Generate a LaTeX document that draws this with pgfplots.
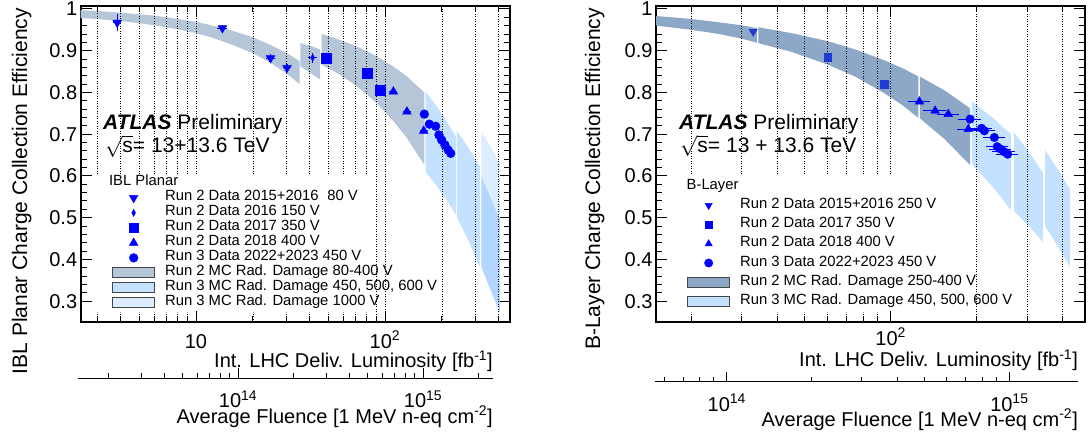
\documentclass[border=0pt]{standalone}
\usepackage{pgfplots}
\pgfplotsset{compat=1.18}
\usepackage{fontspec}
\setmainfont{Liberation Sans}
\definecolor{bandA}{RGB}{181,198,216}
\definecolor{bandB}{RGB}{141,168,198}
\definecolor{runthree}{RGB}{196,226,255}
\definecolor{kilo}{RGB}{220,237,255}
\definecolor{overlap}{RGB}{178,214,255}
\definecolor{dblue}{RGB}{30,60,210}
\definecolor{legedge}{RGB}{70,70,70}
\newcommand{\fs}[1]{\fontsize{#1}{#1}\selectfont}
\pgfplotsset{
  mklegend/.style={legend image code/.code={\draw[##1] plot coordinates {(21pt,0pt)};}},
  bxlegend/.style={legend image code/.code={\draw[##1] (0pt,-5pt) rectangle (42pt,5pt);}},
}
\begin{document}
\begin{tikzpicture}
\useasboundingbox (0pt,0pt) rectangle (1089pt,434pt);
%================ LEFT: IBL Planar =================
\begin{axis}[at={(80.7pt,112pt)}, anchor=south west, scale only axis, width=429.3pt, height=316pt,
  xmode=log, xmin=2.4546, xmax=458.6, ymin=0.25, ymax=1.007,
  ytick={0.3,0.4,0.5,0.6,0.7,0.8,0.9,1},
  yticklabels={0.3,0.4,0.5,0.6,0.7,0.8,0.9,1},
  minor y tick num=4,
  xtick={10,100}, xticklabels={10,10\textsuperscript{2}},
  minor xtick={3,4,5,6,7,8,9,20,30,40,50,60,70,80,90,200,300,400},
  tick align=inside, xtick pos=both, ytick pos=both,
  major tick length=11pt, minor tick length=6pt,
  axis line style={line width=1.6pt},
  tick style={line width=0.9pt, black},
  ticklabel style={font=\fs{20}},
  xticklabel style={anchor=base, yshift=-26pt},
  legend cell align=left,
  legend style={draw=none, fill=none, inner sep=0pt, font=\fs{14.8},
      nodes={inner sep=0pt, text height=10.5pt, text depth=4.5pt}, column sep=10pt,
      at={(0.0729,0.4646)}, anchor=north west}]
% MC bands
\addplot[forget plot, draw=none, fill=bandA] coordinates {(2.4546,0.997)(3,0.995)(4,0.991)(5,0.987)(6,0.984)(8,0.976)(10,0.969)(12,0.961)(15,0.950)(20,0.932)(25,0.913)(30,0.895)(35.3,0.875)
 (35.3,0.820)(30,0.846)(25,0.870)(20,0.894)(15,0.917)(12,0.932)(10,0.942)(8,0.951)(6,0.961)(5,0.966)(4,0.971)(3,0.976)(2.4546,0.978)};
\addplot[forget plot, draw=none, fill=bandA] coordinates {(35.7,0.918)(40,0.912)(45.3,0.903)(45.3,0.831)(40,0.848)(35.7,0.862)};
\addplot[forget plot, draw=none, fill=bandA] coordinates {(46.2,0.940)(55,0.929)(65,0.917)(75,0.905)(90,0.887)(110,0.863)(130,0.839)(161.5,0.800)
 (161.5,0.626)(130,0.692)(110,0.733)(90,0.775)(75,0.806)(65,0.827)(55,0.848)(46.2,0.866)};
\addplot[forget plot, draw=none, fill=runthree] coordinates {(163.9,0.802)(185,0.771)(210,0.734)(237.6,0.694)(237.6,0.506)(210,0.545)(185,0.580)(163.9,0.610)};
\addplot[forget plot, draw=none, fill=runthree] coordinates {(239.7,0.708)(275,0.669)(317.4,0.622)(317.4,0.382)(275,0.447)(239.7,0.502)};
\addplot[forget plot, draw=none, fill=kilo] coordinates {(323.6,0.706)(360,0.672)(405.3,0.630)(405.3,0.271)(360,0.330)(323.6,0.382)};
\addplot[forget plot, draw=none, fill=overlap] coordinates {(323.6,0.598)(360,0.550)(405.3,0.494)(405.3,0.271)(360,0.330)(323.6,0.382)};
% grid lines (hidden behind the legend box)
\addplot[forget plot, black, line width=0.7pt, dash pattern=on 0.8pt off 1.7pt, unbounded coords=jump] coordinates {
 (3,0.25)(3,0.274)(3,nan)(3,0.605)(3,1.007)(3,nan)
 (4,0.25)(4,0.274)(4,nan)(4,0.605)(4,1.007)(4,nan)
 (5,0.25)(5,0.274)(5,nan)(5,0.605)(5,1.007)(5,nan)
 (6,0.25)(6,0.274)(6,nan)(6,0.605)(6,1.007)(6,nan)
 (7,0.25)(7,0.274)(7,nan)(7,0.605)(7,1.007)(7,nan)
 (8,0.25)(8,0.274)(8,nan)(8,0.605)(8,1.007)(8,nan)
 (9,0.25)(9,0.274)(9,nan)(9,0.605)(9,1.007)(9,nan)
 (10,0.25)(10,0.274)(10,nan)(10,0.605)(10,1.007)(10,nan)
 (20,0.25)(20,0.274)(20,nan)(20,0.605)(20,1.007)(20,nan)
 (30,0.25)(30,0.274)(30,nan)(30,0.605)(30,1.007)(30,nan)
 (40,0.25)(40,0.274)(40,nan)(40,0.605)(40,1.007)(40,nan)
 (50,0.25)(50,0.274)(50,nan)(50,0.605)(50,1.007)(50,nan)
 (60,0.25)(60,0.274)(60,nan)(60,0.605)(60,1.007)(60,nan)
 (70,0.25)(70,0.274)(70,nan)(70,0.605)(70,1.007)(70,nan)
 (80,0.25)(80,0.274)(80,nan)(80,0.605)(80,1.007)(80,nan)
 (90,0.25)(90,1.007)(90,nan)
 (100,0.25)(100,1.007)(100,nan)
 (200,0.25)(200,1.007)(200,nan)
 (300,0.25)(300,1.007)(300,nan)
 (400,0.25)(400,1.007)};
% data
\addplot[forget plot, only marks, blue, mark=triangle*, mark size=5pt, mark options={rotate=180},
  error bars/.cd, x dir=both, x explicit relative, y dir=both, y explicit, error mark=none, error bar style={line width=1.2pt, blue}]
 coordinates {(3.83,0.967) +- (0.05,0.02) (13.8,0.954) +- (0.06,0.008) (24.8,0.882) +- (0.05,0.01) (30.3,0.859) +- (0.05,0.01)};
\addplot[forget plot, only marks, blue, mark=diamond*, mark size=3.6pt, mark options={xscale=0.7},
  error bars/.cd, x dir=both, x explicit relative, y dir=both, y explicit, error mark=none, error bar style={line width=1.2pt, blue}]
 coordinates {(41.4,0.883) +- (0.05,0.012)};
\addplot[forget plot, only marks, blue, mark=square*, mark size=5pt,
  error bars/.cd, x dir=both, x explicit relative, y dir=both, y explicit, error mark=none, error bar style={line width=1.2pt, blue}]
 coordinates {(48.7,0.882) +- (0.05,0.005) (80.3,0.847) +- (0.04,0.005) (94.8,0.806) +- (0.04,0.005)};
\addplot[forget plot, only marks, blue, mark=triangle*, mark size=5pt,
  error bars/.cd, x dir=both, x explicit relative, y dir=both, y explicit, error mark=none, error bar style={line width=1.2pt, blue}]
 coordinates {(110.7,0.802) +- (0.05,0.005) (130.6,0.754) +- (0.05,0.005) (160.3,0.708) +- (0.05,0.005)};
\addplot[forget plot, only marks, blue, mark=*, mark size=4.4pt,
  error bars/.cd, x dir=both, x explicit relative, y dir=both, y explicit, error mark=none, error bar style={line width=1.2pt, blue}]
 coordinates {(161.5,0.748) +- (0.04,0.004) (171.6,0.724) +- (0.04,0.004) (185.3,0.719) +- (0.04,0.004) (193,0.698) +- (0.04,0.004)
  (199.5,0.686) +- (0.04,0.004) (207.6,0.674) +- (0.04,0.004) (216,0.662) +- (0.05,0.004) (222.6,0.654) +- (0.05,0.004)};
% legend
\addlegendimage{empty legend}\addlegendentry{\hspace*{-56pt}IBL Planar}
\addlegendimage{mklegend, only marks, blue, mark=triangle*, mark size=5pt, mark options={rotate=180}}
\addlegendentry{Run 2 Data 2015+2016\hspace{0.6em}80 V}
\addlegendimage{mklegend, only marks, blue, mark=diamond*, mark size=3.6pt, mark options={xscale=0.7}}
\addlegendentry{Run 2 Data 2016 150 V}
\addlegendimage{mklegend, only marks, blue, mark=square*, mark size=4.5pt}
\addlegendentry{Run 2 Data 2017 350 V}
\addlegendimage{mklegend, only marks, blue, mark=triangle*, mark size=5pt}
\addlegendentry{Run 2 Data 2018 400 V}
\addlegendimage{mklegend, only marks, blue, mark=*, mark size=4.4pt}
\addlegendentry{Run 3 Data 2022+2023 450 V}
\addlegendimage{bxlegend, fill=bandA, draw=legedge, line width=0.9pt}
\addlegendentry{Run 2 MC Rad. Damage 80-400 V}
\addlegendimage{bxlegend, fill=runthree, draw=legedge, line width=0.9pt}
\addlegendentry{Run 3 MC Rad. Damage 450, 500, 600 V}
\addlegendimage{bxlegend, fill=kilo, draw=legedge, line width=0.9pt}
\addlegendentry{Run 3 MC Rad. Damage 1000 V}
\end{axis}
\begin{axis}[at={(78pt,55.7pt)}, anchor=south west, scale only axis, width=415pt, height=20pt,
  xmode=log, xmin=1.3646e13, xmax=2.388e15, ymin=0, ymax=1,
  axis x line=bottom, axis y line=none, x axis line style={-, line width=1pt},
  tick align=inside, major tick length=10pt, minor tick length=5pt,
  xtick={1e14,1e15}, xticklabels={10\textsuperscript{14},10\textsuperscript{15}},
  minor xtick={2e13,3e13,4e13,5e13,6e13,7e13,8e13,9e13,2e14,3e14,4e14,5e14,6e14,7e14,8e14,9e14,2e15},
  xticklabel style={font=\fs{20}, anchor=base, yshift=-29.3pt},
  tick style={line width=0.9pt, black}]
\addplot[draw=none, forget plot] coordinates {(1e14,0.5)(1e15,0.5)};
\end{axis}
%================ RIGHT: B-Layer =================
\begin{axis}[at={(656pt,112pt)}, anchor=south west, scale only axis, width=429pt, height=316pt,
  xmode=log, xmin=15.08, xmax=478.7, ymin=0.25, ymax=1.007,
  ytick={0.3,0.4,0.5,0.6,0.7,0.8,0.9,1},
  yticklabels={0.3,0.4,0.5,0.6,0.7,0.8,0.9,1},
  minor y tick num=4,
  xtick={100}, xticklabels={10\textsuperscript{2}},
  minor xtick={20,30,40,50,60,70,80,90,200,300,400},
  tick align=inside, xtick pos=both, ytick pos=both,
  major tick length=11pt, minor tick length=6pt,
  axis line style={line width=1.6pt},
  tick style={line width=0.9pt, black},
  ticklabel style={font=\fs{20}},
  xticklabel style={anchor=base, yshift=-23pt},
  legend cell align=left,
  legend style={draw=none, fill=none, inner sep=0pt, font=\fs{14.8},
      nodes={inner sep=0pt, text height=10.5pt, text depth=4.5pt}, column sep=10pt, row sep=4.2pt,
      at={(0.0723,0.4541)}, anchor=north west}]
\addplot[forget plot, draw=none, fill=bandB] coordinates {(15.08,0.983)(20,0.976)(25,0.968)(30,0.961)(34,0.954)(34,0.919)(30,0.929)(25,0.940)(20,0.950)(15.08,0.960)};
\addplot[forget plot, draw=none, fill=bandB] coordinates {(34.4,0.956)(45,0.942)(60,0.923)(75,0.903)(95,0.877)(110,0.858)(125,0.838)(125,0.739)(110,0.769)(95,0.798)(75,0.838)(60,0.867)(45,0.897)(34.4,0.918)};
\addplot[forget plot, draw=none, fill=bandB] coordinates {(126.5,0.838)(155,0.804)(189.6,0.762)(189.6,0.626)(155,0.687)(126.5,0.738)};
\addplot[forget plot, draw=none, fill=runthree] coordinates {(192.5,0.778)(228,0.739)(263.6,0.700)(263.6,0.518)(228,0.573)(192.5,0.628)};
\addplot[forget plot, draw=none, fill=runthree] coordinates {(269.6,0.705)(305,0.657)(341,0.608)(341,0.442)(305,0.479)(269.6,0.516)};
\addplot[forget plot, draw=none, fill=runthree] coordinates {(347,0.662)(385,0.615)(424,0.568)(424,0.382)(385,0.431)(347,0.480)};
\addplot[forget plot, black, line width=0.7pt, dash pattern=on 0.8pt off 1.7pt, unbounded coords=jump] coordinates {
 (20,0.25)(20,0.274)(20,nan)(20,0.605)(20,1.007)(20,nan)
 (30,0.25)(30,0.274)(30,nan)(30,0.605)(30,1.007)(30,nan)
 (40,0.25)(40,0.274)(40,nan)(40,0.605)(40,1.007)(40,nan)
 (50,0.25)(50,0.274)(50,nan)(50,0.605)(50,1.007)(50,nan)
 (60,0.25)(60,0.274)(60,nan)(60,0.605)(60,1.007)(60,nan)
 (70,0.25)(70,0.274)(70,nan)(70,0.605)(70,1.007)(70,nan)
 (80,0.25)(80,0.274)(80,nan)(80,0.605)(80,1.007)(80,nan)
 (90,0.25)(90,0.274)(90,nan)(90,0.605)(90,1.007)(90,nan)
 (100,0.25)(100,0.274)(100,nan)(100,0.605)(100,1.007)(100,nan)
 (200,0.25)(200,1.007)(200,nan)
 (300,0.25)(300,1.007)(300,nan)
 (400,0.25)(400,1.007)};
\addplot[forget plot, only marks, dblue, mark=triangle*, mark size=4.8pt, mark options={rotate=180}]
 coordinates {(33.0,0.9456)};
\addplot[forget plot, only marks, dblue, mark=square*, mark size=3.7pt]
 coordinates {(60.3,0.884)(94.8,0.820)};
\addplot[forget plot, only marks, blue, mark=triangle*, mark size=5pt,
  error bars/.cd, x dir=both, x explicit relative, error mark=none, error bar style={line width=1.2pt, blue}]
 coordinates {(126,0.778) +- (0.09,0) (143,0.756) +- (0.09,0) (159,0.748) +- (0.09,0) (187,0.712) +- (0.09,0)};
\addplot[forget plot, only marks, blue, mark=*, mark size=4.3pt,
  error bars/.cd, x dir=both, x explicit relative, error mark=none, error bar style={line width=1.2pt, blue}]
 coordinates {(189.6,0.736) +- (0.09,0) (208,0.714) +- (0.09,0) (212.7,0.708) +- (0.09,0) (230.5,0.692) +- (0.09,0)
  (236,0.670) +- (0.09,0) (242.7,0.664) +- (0.09,0) (249.3,0.658) +- (0.09,0) (256.8,0.652) +- (0.09,0)};
\addlegendimage{empty legend}\addlegendentry{\hspace*{-56pt}B-Layer}
\addlegendimage{mklegend, only marks, blue, mark=triangle*, mark size=4.2pt, mark options={rotate=180}}
\addlegendentry{Run 2 Data 2015+2016 250 V}
\addlegendimage{mklegend, only marks, blue, mark=square*, mark size=3.2pt}
\addlegendentry{Run 2 Data 2017 350 V}
\addlegendimage{mklegend, only marks, blue, mark=triangle*, mark size=4.2pt}
\addlegendentry{Run 2 Data 2018 400 V}
\addlegendimage{mklegend, only marks, blue, mark=*, mark size=4.2pt}
\addlegendentry{Run 3 Data 2022+2023 450 V}
\addlegendimage{bxlegend, fill=bandB, draw=legedge, line width=0.9pt}
\addlegendentry{Run 2 MC Rad. Damage 250-400 V}
\addlegendimage{bxlegend, fill=runthree, draw=legedge, line width=0.9pt}
\addlegendentry{Run 3 MC Rad. Damage 450, 500, 600 V}
\end{axis}
\begin{axis}[at={(655pt,52.3pt)}, anchor=south west, scale only axis, width=423pt, height=20pt,
  xmode=log, xmin=5.57e13, xmax=1.75e15, ymin=0, ymax=1,
  axis x line=bottom, axis y line=none, x axis line style={-, line width=1pt},
  tick align=inside, major tick length=10pt, minor tick length=5pt,
  xtick={1e14,1e15}, xticklabels={10\textsuperscript{14},10\textsuperscript{15}},
  minor xtick={6e13,7e13,8e13,9e13,2e14,3e14,4e14,5e14,6e14,7e14,8e14,9e14},
  xticklabel style={font=\fs{20}, anchor=base, yshift=-29.8pt},
  tick style={line width=0.9pt, black}]
\addplot[draw=none, forget plot] coordinates {(1e14,0.5)(1e15,0.5)};
\end{axis}
%================ texts =================
\node[rotate=90, anchor=base east, inner sep=0pt, font=\fs{21}] at (27pt,426pt) {IBL Planar Charge Collection Efficiency};
\node[rotate=90, anchor=base east, inner sep=0pt, font=\fs{21}] at (600pt,426pt) {B-Layer Charge Collection Efficiency};
\node[anchor=base west, inner sep=0pt, font=\fs{21}] at (103pt,304pt) {\textbf{\textit{ATLAS}} Preliminary};
\node[anchor=base west, inner sep=0pt, font=\fs{21}] at (105pt,281pt) {$\sqrt{\mbox{s}}$= 13+13.6 TeV};
\node[anchor=base west, inner sep=0pt, font=\fs{21}] at (679pt,304pt) {\textbf{\textit{ATLAS}} Preliminary};
\node[anchor=base west, inner sep=0pt, font=\fs{21}] at (680pt,281.3pt) {$\sqrt{\mbox{s}}$= 13 + 13.6 TeV};
\node[anchor=base east, inner sep=0pt, font=\fs{20}] at (493pt,66.3pt) {Int. LHC Deliv. Luminosity [fb\textsuperscript{-1}]};
\node[anchor=base east, inner sep=0pt, font=\fs{20}] at (1078pt,67.3pt) {Int. LHC Deliv. Luminosity [fb\textsuperscript{-1}]};
\node[anchor=base east, inner sep=0pt, font=\fs{20}] at (493pt,11pt) {Average Fluence [1 MeV n-eq cm\textsuperscript{-2}]};
\node[anchor=base east, inner sep=0pt, font=\fs{20}] at (1078pt,8pt) {Average Fluence [1 MeV n-eq cm\textsuperscript{-2}]};
\end{tikzpicture}
\end{document}
